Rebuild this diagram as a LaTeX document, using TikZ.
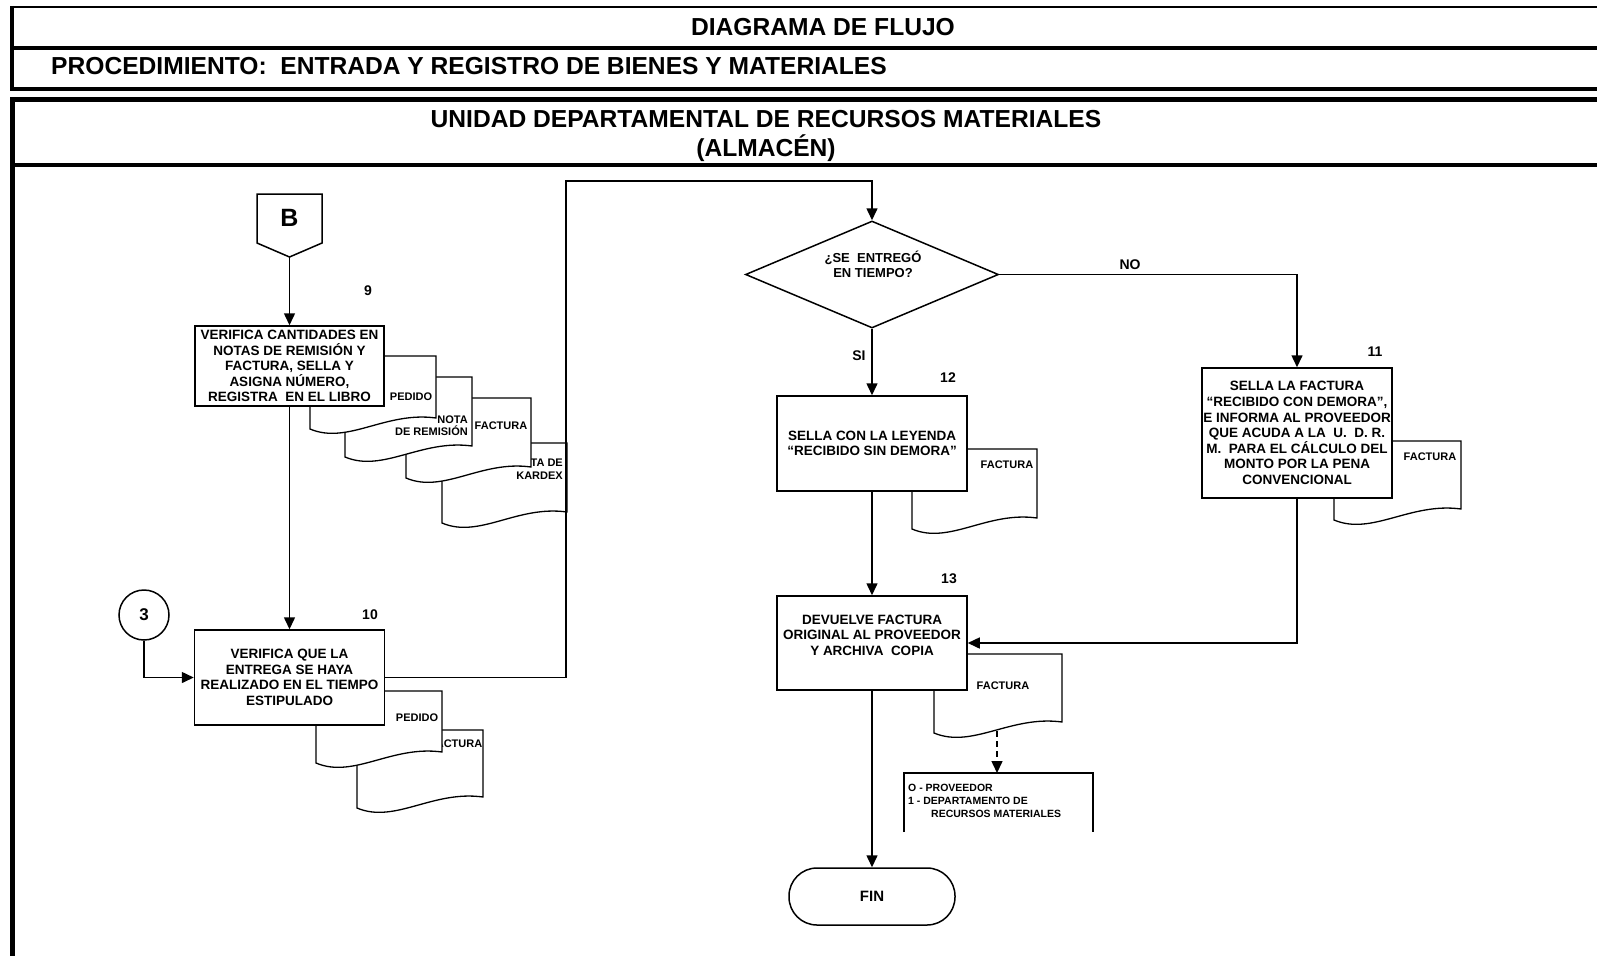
\documentclass[tikz,border=0pt]{standalone}
\usepackage{fontspec}
\setmainfont{Liberation Sans}
\usepackage{tikz}
\usetikzlibrary{arrows.meta,shapes.geometric}

\tikzset{
	proc/.style={draw,rectangle,line width=1.5pt,fill=white,minimum width=190pt,inner sep=0pt,align=center,font=\fontsize{13.5}{15.6}\selectfont\bfseries},
	docline/.style={line width=1.3pt,fill=white},
	doclbl/.style={inner sep=0pt,font=\fontsize{11}{12.5}\selectfont\bfseries},
	distlbl/.style={inner sep=0pt,font=\fontsize{10.5}{12}\selectfont\bfseries},
	num/.style={inner sep=0pt,font=\fontsize{14}{16}\selectfont\bfseries},
	title/.style={inner sep=0pt,font=\fontsize{24.6}{29}\selectfont\bfseries},
	arr/.style={line width=1.5pt,-{Triangle[length=12pt,width=11pt]}}
}

\newcommand{\docu}[4]{%
	\draw[docline] (#1,#2) -- ({#1+#3},#2) -- ({#1+#3},{#2+#4-11})
		.. controls ({#1+0.6*#3},{#2+#4-18}) and ({#1+0.3*#3},{#2+#4+16}) .. (#1,{#2+#4}) -- cycle;}

\begin{document}
\begin{tikzpicture}[x=1pt,y=-1pt,line join=miter]
		\useasboundingbox (0,0) rectangle (1597,956);
		\draw[line width=2.5pt] (12,7) -- (1597,7);
		\draw[line width=3.5pt] (12,5.8) -- (12,88);
		\draw[line width=4pt] (12,47.5) -- (1597,47.5);
		\draw[line width=4pt] (10.2,88.5) -- (1597,88.5);
		\draw[line width=5pt] (1597,99.5) -- (12,99.5) -- (12,956);
		\draw[line width=4pt] (12,164.5) -- (1597,164.5);
		\node[title] (t1) at (823,27.5) {DIAGRAMA DE FLUJO};
		\node[title,anchor=west] (t2) at (51,66) {PROCEDIMIENTO:~ ENTRADA Y REGISTRO DE BIENES Y MATERIALES};
		\node[title] (t3) at (766,119) {UNIDAD DEPARTAMENTAL DE RECURSOS MATERIALES};
		\node[title] (t4) at (766,148) {(ALMACÉN)};
		\draw[line width=1.5pt,fill=white] (257,194) -- (322,194) -- (322,243) -- (289.5,257) -- (257,243) -- cycle;
		\node[inner sep=0pt,font=\fontsize{25}{30}\selectfont\bfseries] (B) at (289.5,218) {B};
		\coordinate (Btip) at (289.5,257);
		\docu{442}{443}{125}{80}
		\node[doclbl,align=right,anchor=east] (dkar) at (563,469) {TARJETA DE\\KARDEX};
		\docu{406}{398}{125}{80}
		\node[doclbl] (dfac1) at (501,426) {FACTURA};
		\docu{345}{377}{127}{80}
		\node[doclbl,align=right,anchor=east] (dnot) at (468,425.5) {NOTA\\DE REMISIÓN};
		\docu{310}{356}{126}{73}
		\node[doclbl] (dped1) at (411,397) {PEDIDO};
		\node[proc,minimum width=189pt,minimum height=80pt] (b9) at (289.5,366) {VERIFICA CANTIDADES EN\\NOTAS DE REMISIÓN Y\\FACTURA, SELLA Y\\ASIGNA NÚMERO,\\REGISTRA~ EN EL LIBRO};
		\node[num] (n9) at (368,291) {9};
		\docu{357}{730}{126}{78}
		\node[doclbl] (dfac2) at (456,744) {FACTURA};
		\docu{316}{691}{126}{72}
		\node[doclbl] (dped2) at (417,718) {PEDIDO};
		\node[proc,minimum height=95pt] (b10) at (289.5,677.5) {VERIFICA QUE LA\\ENTREGA SE HAYA\\REALIZADO EN EL TIEMPO\\ESTIPULADO};
		\node[num] (n10) at (370,615) {10};
		\node[draw,circle,line width=1.5pt,minimum size=50pt,inner sep=0pt,font=\fontsize{17}{20}\selectfont\bfseries] (c3) at (144,615) {3};
		\coordinate (up) at (566,181);
		\node[draw,diamond,aspect=2.4,line width=1.5pt,minimum width=253pt,minimum height=107pt,inner sep=0pt] (dec) at (872,274.5) {};
		\node[align=center,inner sep=0pt,font=\fontsize{13}{15}\selectfont\bfseries] (dect) at (873,264.5) {¿SE~ ENTREGÓ\\EN TIEMPO?};
		\node[num] (si) at (859,356) {SI};
		\node[num] (no) at (1130,265) {NO};
		\docu{912}{449}{125}{80}
		\node[doclbl] (dfac3) at (1007,465) {FACTURA};
		\node[proc,minimum height=95pt] (b12) at (872,443.5) {SELLA CON LA LEYENDA\\“RECIBIDO SIN DEMORA”};
		\node[num] (n12) at (948,378) {12};
		\docu{1334}{441}{127}{79}
		\node[doclbl] (dfac4) at (1430,457) {FACTURA};
		\node[proc,minimum height=130pt] (b11) at (1297,433) {SELLA LA FACTURA\\“RECIBIDO CON DEMORA”,\\E INFORMA AL PROVEEDOR\\QUE ACUDA A LA~ U.~ D. R.\\M.~ PARA EL CÁLCULO DEL\\MONTO POR LA PENA\\CONVENCIONAL};
		\node[num] (n11) at (1375,352) {11};
		\docu{934}{654}{128}{79}
		\node[doclbl] (dfac5) at (1003,686) {FACTURA};
		\coordinate (dfac5b) at (997,731);
		\node[proc,minimum height=94pt] (b13) at (872,643) {DEVUELVE FACTURA\\ORIGINAL AL PROVEEDOR\\Y ARCHIVA~ COPIA\\\mbox{}};
		\node[num] (n13) at (949,579) {13};
		\draw[line width=1.3pt] (904,832) -- (904,773) -- (1093,773) -- (1093,832);
		\coordinate (dist) at (997,773);
		\node[distlbl,anchor=west] (d0) at (908,788) {O - PROVEEDOR};
		\node[distlbl,anchor=west] (d1) at (908,801) {1 - DEPARTAMENTO DE};
		\node[distlbl,anchor=west] (d2) at (931,814) {RECURSOS MATERIALES};
		\node[draw,rectangle,rounded corners=28pt,line width=1.5pt,minimum width=166pt,minimum height=57pt,font=\fontsize{15}{18}\selectfont\bfseries] (fin) at (872,896.5) {FIN};
		\draw[arr] (Btip) -- (b9.north);
		\draw[arr] (b9.south) -- (b10.north);
		\draw[arr] (c3.south) |- (b10.west);
		\draw[arr] (b10.east) -| (up) -| (dec.north);
		\draw[arr] (dec.south) -- (b12.north);
		\draw[arr] (dec.east) -| (b11.north);
		\draw[arr] (b12.south) -- (b13.north);
		\draw[arr] (b11.south) |- (b13.east);
		\draw[arr] (b13.south) -- (fin.north);
		\draw[arr,dash pattern=on 6pt off 4pt] (dfac5b) -- (dist);
	\end{tikzpicture}
\end{document}
